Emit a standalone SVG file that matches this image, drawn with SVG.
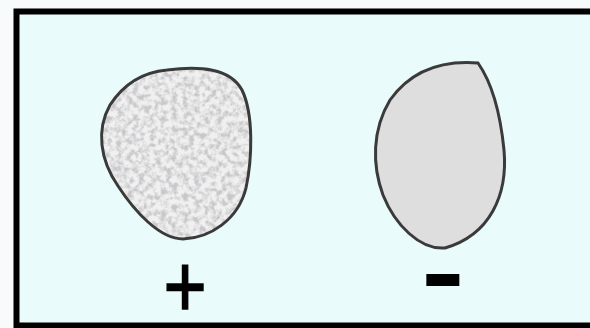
<svg xmlns="http://www.w3.org/2000/svg" width="590" height="328" viewBox="0 0 590 328">
  <defs>
    <style>
      .blob { stroke: #3a3a3a; stroke-width: 3; fill: none; }
      .sign { font-family: "Liberation Sans", Arial, sans-serif; fill: #000; text-anchor: middle; }
    </style>
    <filter id="speckle" x="0" y="0" width="100%" height="100%">
      <feTurbulence type="fractalNoise" baseFrequency="0.18" numOctaves="3" seed="5" result="n"/>
      <feColorMatrix in="n" type="matrix" values="0 0 0 0 0.58  0 0 0 0 0.58  0 0 0 0 0.6  0 0 0 -3 1.85" result="c"/>
      <feFlood flood-color="#f0f0f0" result="bg"/>
      <feComposite in="c" in2="bg" operator="over"/>
    </filter>
    <clipPath id="clipPlus">
      <path d="M 167,70 C 200,66 230,68 242,90 C 254,115 252,160 246,188 C 238,220 210,238 183,239 C 160,239 135,212 118,186 C 100,160 96,130 110,105 C 125,82 145,72 167,70 Z"/>
    </clipPath>
  </defs>
  <rect x="0" y="0" width="590" height="328" fill="#f7fbfb"/>
  <g id="frame">
    <rect x="16.5" y="11.5" width="600" height="314" fill="#e9fbfb" stroke="#000" stroke-width="6"/>
  </g>
  <g id="cell-plus">
    <g clip-path="url(#clipPlus)">
      <rect x="95" y="60" width="165" height="185" filter="url(#speckle)"/>
    </g>
    <path class="blob" d="M 167,70 C 200,66 230,68 242,90 C 254,115 252,160 246,188 C 238,220 210,238 183,239 C 160,239 135,212 118,186 C 100,160 96,130 110,105 C 125,82 145,72 167,70 Z"/>
    <text class="sign" transform="translate(185,287) scale(1,1.2)" x="0" y="25" font-size="74" font-weight="normal" stroke="#000" stroke-width="1.3">+</text>
  </g>
  <g id="cell-minus">
    <path class="blob" style="fill:#dedede" d="M 478,63 C 490,80 500,110 504,150 C 508,195 490,235 445,248 C 420,250 395,225 383,195 C 372,165 372,130 390,100 C 410,72 440,60 478,63 Z"/>
    <text class="sign" transform="translate(443,281.5) scale(1.3,1)" x="0" y="24.5" font-size="100" font-weight="bold">-</text>
  </g>
</svg>
